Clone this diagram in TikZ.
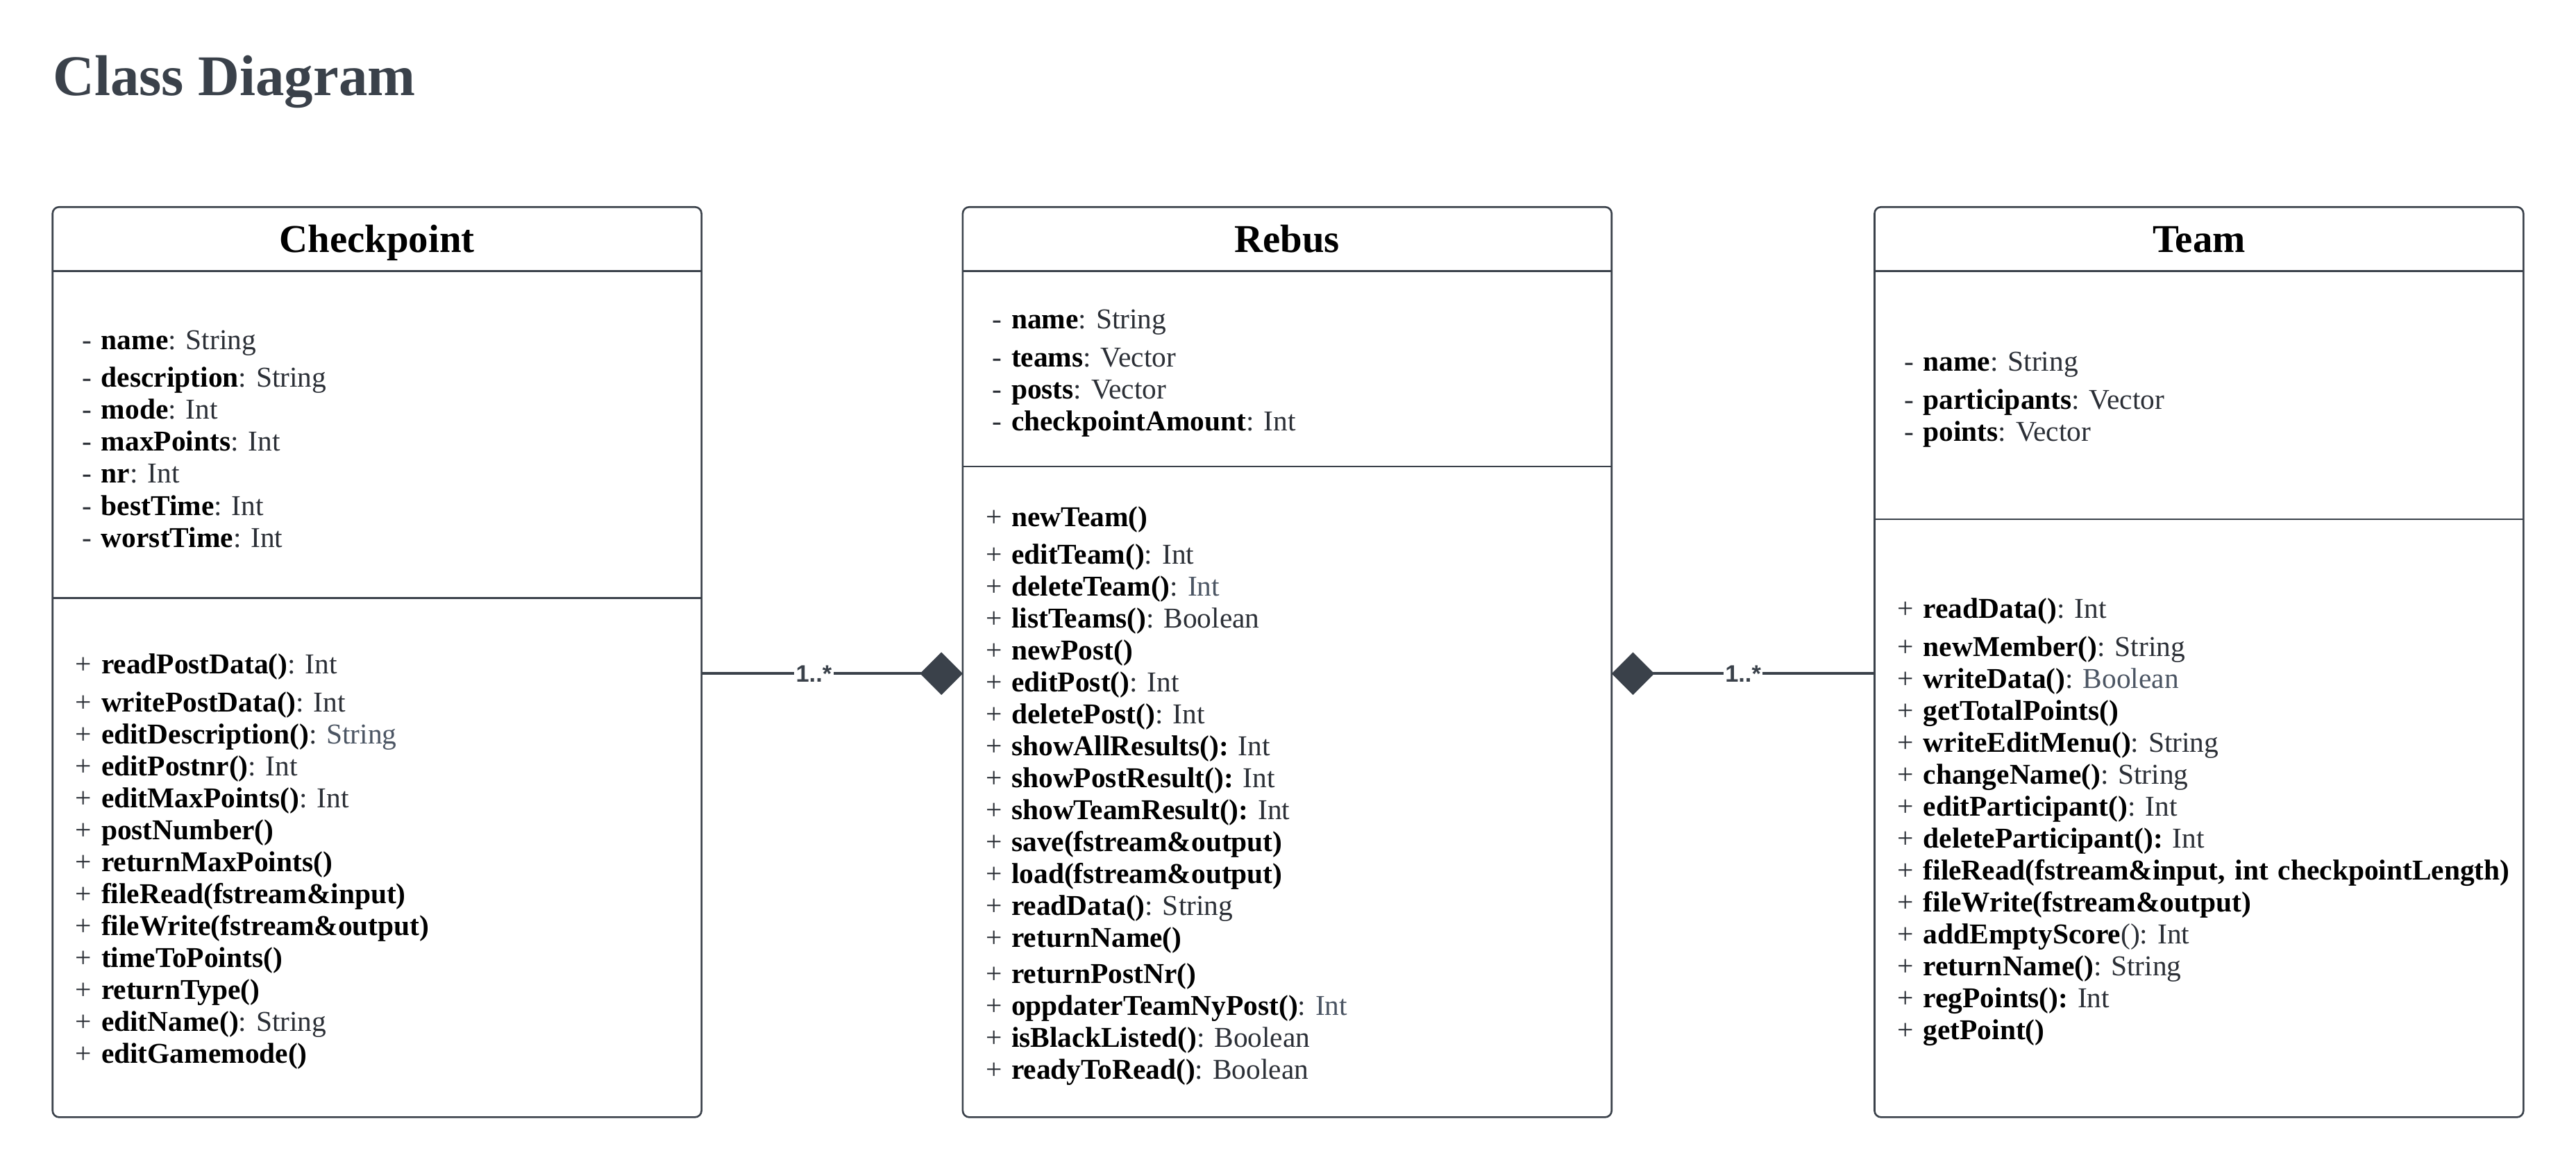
\documentclass[tikz,border=0pt]{standalone}
\usepackage{fontspec}
\setmainfont{Liberation Serif}
\newfontfamily\labelfont{Liberation Sans}
\usepackage{tikz}
\usetikzlibrary{positioning,arrows.meta}

\definecolor{umlgray}{HTML}{3A414A}
\definecolor{typegray}{HTML}{2B2F36}
\definecolor{faintgray}{HTML}{4B5563}

\newcommand{\nm}[1]{\textcolor{black}{\textbf{#1}}}
\newcommand{\faint}[1]{\textcolor{faintgray}{#1}}
\frenchspacing

\tikzstyle{classname} = [rectangle, minimum width=395pt, minimum height=39pt, inner sep=0pt, outer sep=0pt, text height=19pt, text depth=3pt, text centered, font=\fontsize{24}{28}\selectfont\bfseries]
\tikzstyle{attrbox} = [rectangle, text width=359pt, inner xsep=18pt, inner ysep=0pt, outer sep=0pt, align=left, text=typegray, font=\fontsize{17.5}{19.45}\selectfont, execute at begin node={\rule{0pt}{17pt}}]
\tikzstyle{opbox} = [rectangle, text width=367pt, inner xsep=14pt, inner ysep=0pt, outer sep=0pt, align=left, text=typegray, font=\fontsize{17.5}{19.45}\selectfont, execute at begin node={\rule{0pt}{17pt}}]
\tikzstyle{frame} = [draw=umlgray, line width=1.1pt]
\tikzstyle{composition} = [draw=umlgray, line width=1.6pt, -{Diamond[length=26pt,width=26pt,fill=umlgray]}]
\tikzstyle{mult} = [fill=white, inner sep=1pt, text=umlgray, font=\labelfont\fontsize{14.5}{16}\selectfont\bfseries]

\begin{document}
\begin{tikzpicture}[x=1pt,y=1pt]
    \useasboundingbox (0,0) rectangle (1568,-711.5);

    \node(title)[anchor=base west, text=umlgray, inner sep=0pt, font=\fontsize{35}{40}\selectfont\bfseries] at (32,-58) {Class Diagram};

    % Checkpoint
    \node(checkpoint)[classname] at (229.5,-145.5) {Checkpoint};
    \node(checkpointattr)[attrbox, below=0pt of checkpoint, minimum height=199pt]{
        - \nm{name}: String\\[3.5pt]
        - \nm{description}: String\\
        - \nm{mode}: Int\\
        - \nm{maxPoints}: Int\\
        - \nm{nr}: Int\\
        - \nm{bestTime}: Int\\
        - \nm{worstTime}: Int};
    \node(checkpointops)[opbox, below=0pt of checkpointattr, minimum height=316pt]{
        + \nm{readPostData()}: Int\\[3.5pt]
        + \nm{writePostData()}: Int\\
        + \nm{editDescription()}: \faint{String}\\
        + \nm{editPostnr()}: Int\\
        + \nm{editMaxPoints()}: Int\\
        + \nm{postNumber()}\\
        + \nm{returnMaxPoints()}\\
        + \nm{fileRead(fstream\&input)}\\
        + \nm{fileWrite(fstream\&output)}\\
        + \nm{timeToPoints()}\\
        + \nm{returnType()}\\
        + \nm{editName()}: String\\
        + \nm{editGamemode()}};

    % Rebus
    \node(rebus)[classname, right=159pt of checkpoint]{Rebus};
    \node(rebusattr)[attrbox, below=0pt of rebus, minimum height=119pt]{
        - \nm{name}: String\\[3.5pt]
        - \nm{teams}: Vector\\
        - \nm{posts}: Vector\\
        - \nm{checkpointAmount}: Int};
    \node(rebusops)[opbox, below=0pt of rebusattr, minimum height=396pt]{
        + \nm{newTeam()}\\[3.5pt]
        + \nm{editTeam()}: Int\\
        + \nm{deleteTeam()}: \faint{Int}\\
        + \nm{listTeams()}: Boolean\\
        + \nm{newPost()}\\
        + \nm{editPost()}: Int\\
        + \nm{deletePost()}: Int\\
        + \nm{showAllResults():} Int\\
        + \nm{showPostResult():} Int\\
        + \nm{showTeamResult():} Int\\
        + \nm{save(fstream\&output)}\\
        + \nm{load(fstream\&output)}\\
        + \nm{readData()}: String\\
        + \nm{returnName()}\\[2.5pt]
        + \nm{returnPostNr()}\\
        + \nm{oppdaterTeamNyPost()}: \faint{Int}\\
        + \nm{isBlackListed()}: Boolean\\
        + \nm{readyToRead()}: Boolean};

    % Team
    \node(team)[classname, right=160pt of rebus]{Team};
    \node(teamattr)[attrbox, below=0pt of team, minimum height=151pt]{
        - \nm{name}: String\\[3.5pt]
        - \nm{participants}: Vector\\
        - \nm{points}: Vector};
    \node(teamops)[opbox, below=0pt of teamattr, minimum height=364pt]{
        + \nm{readData()}: Int\\[3.5pt]
        + \nm{newMember()}: String\\
        + \nm{writeData()}: \faint{Boolean}\\
        + \nm{getTotalPoints()}\\
        + \nm{writeEditMenu()}: String\\
        + \nm{changeName()}: String\\
        + \nm{editParticipant()}: Int\\
        + \nm{deleteParticipant():} Int\\
        \mbox{+ \nm{fileRead(fstream\&input, int checkpointLength)}}\\
        + \nm{fileWrite(fstream\&output)}\\
        + \nm{addEmptyScore}(): Int\\
        + \nm{returnName()}: String\\
        + \nm{regPoints():} Int\\
        + \nm{getPoint()}};

    \draw[frame, rounded corners=4pt] (checkpoint.north west) rectangle (checkpointops.south east);
    \draw[frame] (checkpointattr.north west) -- (checkpointattr.north east);
    \draw[frame] (checkpointops.north west) -- (checkpointops.north east);

    \draw[frame, rounded corners=4pt] (rebus.north west) rectangle (rebusops.south east);
    \draw[frame] (rebusattr.north west) -- (rebusattr.north east);
    \draw[frame] (rebusops.north west) -- (rebusops.north east);

    \draw[frame, rounded corners=4pt] (team.north west) rectangle (teamops.south east);
    \draw[frame] (teamattr.north west) -- (teamattr.north east);
    \draw[frame] (teamops.north west) -- (teamops.north east);

    \draw[composition] ([yshift=-46pt]checkpointops.north east) -- node[mult, pos=0.43]{1..*} ([yshift=-126pt]rebusops.north west);
    \draw[composition] ([yshift=-94pt]teamops.north west) -- node[mult, pos=0.5]{1..*} ([yshift=-126pt]rebusops.north east);

\end{tikzpicture}
\end{document}
